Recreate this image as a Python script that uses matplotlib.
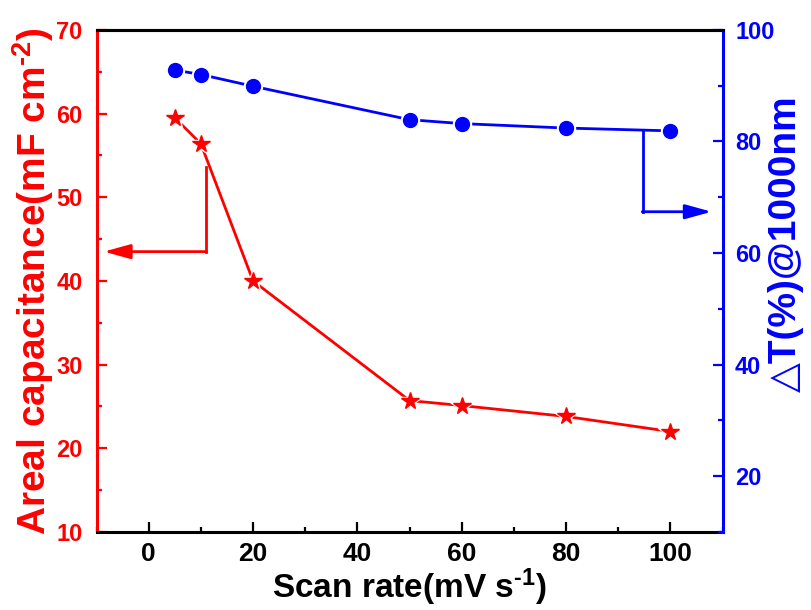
import matplotlib
matplotlib.use("Agg")
import matplotlib.pyplot as plt
from matplotlib.ticker import MultipleLocator

plt.rcParams['font.family'] = ['Liberation Sans', 'DejaVu Sans']
plt.rcParams['font.weight'] = 'bold'
plt.rcParams['mathtext.fontset'] = 'custom'
plt.rcParams['mathtext.rm'] = 'Liberation Sans:bold'
plt.rcParams['mathtext.default'] = 'rm'

# data
scan_rate = [5, 10, 20, 50, 60, 80, 100]
areal_cap = [59.5, 56.4, 40.0, 25.7, 25.1, 23.8, 22.0]
delta_t = [92.8, 92.0, 89.9, 83.9, 83.2, 82.4, 81.9]

RED, BLUE = '#ff0000', '#0000ff'

fig = plt.figure(figsize=(8.11, 6.10), dpi=100)
ax1 = fig.add_axes([0.119, 0.128, 0.772, 0.823])
ax2 = ax1.twinx()

# red series (stars), white halo gives the small gap round each marker
ax1.plot(scan_rate, areal_cap, '-', color=RED, lw=2.0, zorder=3)
ax1.plot(scan_rate, areal_cap, '*', color='white', ms=18, zorder=4)
ax1.plot(scan_rate, areal_cap, '*', color=RED, ms=13, mec=RED, zorder=5)

ax2.plot(scan_rate, delta_t, '-', color=BLUE, lw=2.0, zorder=3)
ax2.plot(scan_rate, delta_t, 'o', color='white', ms=13, zorder=4)
ax2.plot(scan_rate, delta_t, 'o', color=BLUE, ms=10, mec=BLUE, zorder=5)

# arrows pointing to the axes
ax1.plot([11, 11], [53.6, 43.5], color=RED, lw=2.0)
ax1.annotate('', xy=(-8.6, 43.5), xytext=(11.1, 43.5),
             arrowprops=dict(arrowstyle='-|>,head_length=0.8,head_width=0.22',
                             color=RED, lw=2.0, mutation_scale=20,
                             shrinkA=0, shrinkB=0))
ax2.plot([94.7, 94.7], [82.0, 67.4], color=BLUE, lw=2.0)
ax2.annotate('', xy=(107.9, 67.4), xytext=(94.6, 67.4),
             arrowprops=dict(arrowstyle='-|>,head_length=0.8,head_width=0.22',
                             color=BLUE, lw=2.0, mutation_scale=20,
                             shrinkA=0, shrinkB=0))

ax1.set_xlim(-10, 110)
ax1.set_ylim(10, 70)
ax2.set_ylim(10, 100)

ax1.xaxis.set_major_locator(MultipleLocator(20))
ax1.xaxis.set_minor_locator(MultipleLocator(10))
ax1.yaxis.set_major_locator(MultipleLocator(10))
ax1.yaxis.set_minor_locator(MultipleLocator(5))
ax2.yaxis.set_major_locator(MultipleLocator(20))
ax2.yaxis.set_minor_locator(MultipleLocator(10))

for sp in ax1.spines.values():
    sp.set_linewidth(2.2)
for sp in ax2.spines.values():
    sp.set_linewidth(2.2)
ax1.spines['left'].set_color(RED)
ax2.spines['left'].set_visible(False)
ax2.spines['right'].set_color(BLUE)
ax1.spines['right'].set_visible(False)
ax2.spines['bottom'].set_visible(False)

ax1.tick_params(axis='x', which='both', direction='in', top=False, width=1.6,
                colors='black', pad=7, labelsize=19)
ax1.tick_params(axis='x', which='major', length=7)
ax1.tick_params(axis='x', which='minor', length=3.5)
ax1.tick_params(axis='y', which='both', direction='in', right=False, width=1.6,
                colors=RED, pad=10, labelsize=17)
ax1.tick_params(axis='y', which='major', length=7)
ax1.tick_params(axis='y', which='minor', length=3.5)
ax2.tick_params(axis='y', which='both', direction='in', width=1.6,
                colors=BLUE, pad=9, labelsize=17)
ax2.tick_params(axis='y', which='major', length=7)
ax2.tick_params(axis='y', which='minor', length=3.5)

ax1.set_xlabel(r'Scan rate(mV s$^{\text{-1}}$)', fontsize=24, fontweight='bold')
ax1.xaxis.set_label_coords(0.5, -0.068)
ax1.set_ylabel(r'Areal capacitance(mF cm$^{\text{-2}}$)', fontsize=28,
               fontweight='bold', color=RED)
ax1.yaxis.set_label_coords(-0.065, 0.5)
ax2.set_ylabel('△T(%)@1000nm', fontsize=28, fontweight='bold', color=BLUE,
               family=['Liberation Sans', 'DejaVu Sans'])
ax2.yaxis.set_label_coords(1.072, 0.575)

plt.savefig('out.png', dpi=100)
plt.close()
